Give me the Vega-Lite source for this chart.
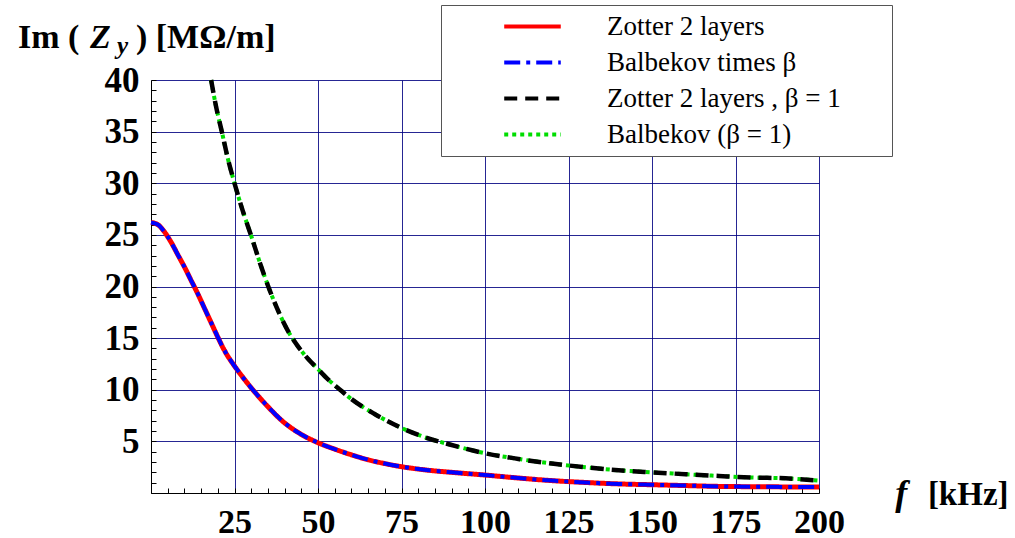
{
  "$schema": "https://vega.github.io/schema/vega-lite/v6.json",
  "width": 668,
  "height": 413,
  "autosize": {"type": "none"},
  "padding": {"left": 151, "top": 80, "right": 196, "bottom": 45},
  "background": "white",
  "config": {"view": {"stroke": null}, "font": "Liberation Serif"},
  "datasets": {
    "red": [
      {"f": 0, "v": 26.2, "s": "Zotter 2 layers"}, {"f": 2, "v": 26.0, "s": "Zotter 2 layers"}, {"f": 4, "v": 25.3, "s": "Zotter 2 layers"},
      {"f": 6, "v": 24.3, "s": "Zotter 2 layers"}, {"f": 8, "v": 23.1, "s": "Zotter 2 layers"}, {"f": 10, "v": 21.9, "s": "Zotter 2 layers"},
      {"f": 12, "v": 20.6, "s": "Zotter 2 layers"}, {"f": 14, "v": 19.3, "s": "Zotter 2 layers"}, {"f": 16, "v": 17.9, "s": "Zotter 2 layers"},
      {"f": 18, "v": 16.5, "s": "Zotter 2 layers"}, {"f": 20, "v": 15.1, "s": "Zotter 2 layers"}, {"f": 22, "v": 13.8, "s": "Zotter 2 layers"},
      {"f": 25, "v": 12.3, "s": "Zotter 2 layers"}, {"f": 28, "v": 11.0, "s": "Zotter 2 layers"}, {"f": 31, "v": 9.8, "s": "Zotter 2 layers"},
      {"f": 34.6, "v": 8.5, "s": "Zotter 2 layers"}, {"f": 39.6, "v": 6.9, "s": "Zotter 2 layers"}, {"f": 44.6, "v": 5.75, "s": "Zotter 2 layers"},
      {"f": 50, "v": 4.87, "s": "Zotter 2 layers"}, {"f": 55, "v": 4.25, "s": "Zotter 2 layers"}, {"f": 60, "v": 3.7, "s": "Zotter 2 layers"},
      {"f": 65, "v": 3.22, "s": "Zotter 2 layers"}, {"f": 70, "v": 2.85, "s": "Zotter 2 layers"}, {"f": 75, "v": 2.55, "s": "Zotter 2 layers"},
      {"f": 80, "v": 2.32, "s": "Zotter 2 layers"}, {"f": 85, "v": 2.14, "s": "Zotter 2 layers"}, {"f": 90, "v": 2.0, "s": "Zotter 2 layers"},
      {"f": 100, "v": 1.74, "s": "Zotter 2 layers"}, {"f": 110, "v": 1.45, "s": "Zotter 2 layers"}, {"f": 120, "v": 1.2, "s": "Zotter 2 layers"},
      {"f": 130, "v": 1.02, "s": "Zotter 2 layers"}, {"f": 140, "v": 0.88, "s": "Zotter 2 layers"}, {"f": 150, "v": 0.8, "s": "Zotter 2 layers"},
      {"f": 160, "v": 0.72, "s": "Zotter 2 layers"}, {"f": 170, "v": 0.64, "s": "Zotter 2 layers"}, {"f": 180, "v": 0.61, "s": "Zotter 2 layers"},
      {"f": 190, "v": 0.59, "s": "Zotter 2 layers"}, {"f": 200, "v": 0.57, "s": "Zotter 2 layers"}
    ],
    "blue": [
      {"f": 0, "v": 26.2, "s": "Balbekov times β"}, {"f": 2, "v": 26.0, "s": "Balbekov times β"}, {"f": 4, "v": 25.3, "s": "Balbekov times β"},
      {"f": 6, "v": 24.3, "s": "Balbekov times β"}, {"f": 8, "v": 23.1, "s": "Balbekov times β"}, {"f": 10, "v": 21.9, "s": "Balbekov times β"},
      {"f": 12, "v": 20.6, "s": "Balbekov times β"}, {"f": 14, "v": 19.3, "s": "Balbekov times β"}, {"f": 16, "v": 17.9, "s": "Balbekov times β"},
      {"f": 18, "v": 16.5, "s": "Balbekov times β"}, {"f": 20, "v": 15.1, "s": "Balbekov times β"}, {"f": 22, "v": 13.8, "s": "Balbekov times β"},
      {"f": 25, "v": 12.3, "s": "Balbekov times β"}, {"f": 28, "v": 11.0, "s": "Balbekov times β"}, {"f": 31, "v": 9.8, "s": "Balbekov times β"},
      {"f": 34.6, "v": 8.5, "s": "Balbekov times β"}, {"f": 39.6, "v": 6.9, "s": "Balbekov times β"}, {"f": 44.6, "v": 5.75, "s": "Balbekov times β"},
      {"f": 50, "v": 4.87, "s": "Balbekov times β"}, {"f": 55, "v": 4.25, "s": "Balbekov times β"}, {"f": 60, "v": 3.7, "s": "Balbekov times β"},
      {"f": 65, "v": 3.22, "s": "Balbekov times β"}, {"f": 70, "v": 2.85, "s": "Balbekov times β"}, {"f": 75, "v": 2.55, "s": "Balbekov times β"},
      {"f": 80, "v": 2.32, "s": "Balbekov times β"}, {"f": 85, "v": 2.14, "s": "Balbekov times β"}, {"f": 90, "v": 2.0, "s": "Balbekov times β"},
      {"f": 100, "v": 1.74, "s": "Balbekov times β"}, {"f": 110, "v": 1.45, "s": "Balbekov times β"}, {"f": 120, "v": 1.2, "s": "Balbekov times β"},
      {"f": 130, "v": 1.02, "s": "Balbekov times β"}, {"f": 140, "v": 0.88, "s": "Balbekov times β"}, {"f": 150, "v": 0.8, "s": "Balbekov times β"},
      {"f": 160, "v": 0.72, "s": "Balbekov times β"}, {"f": 170, "v": 0.64, "s": "Balbekov times β"}, {"f": 180, "v": 0.61, "s": "Balbekov times β"},
      {"f": 190, "v": 0.59, "s": "Balbekov times β"}, {"f": 200, "v": 0.57, "s": "Balbekov times β"}
    ],
    "black": [
      {"f": 18, "v": 40, "s": "Zotter 2 layers , β = 1"}, {"f": 19.5, "v": 37.4, "s": "Zotter 2 layers , β = 1"}, {"f": 21.2, "v": 35, "s": "Zotter 2 layers , β = 1"},
      {"f": 23, "v": 32.4, "s": "Zotter 2 layers , β = 1"}, {"f": 25, "v": 30, "s": "Zotter 2 layers , β = 1"}, {"f": 27.5, "v": 27.3, "s": "Zotter 2 layers , β = 1"},
      {"f": 30, "v": 24.9, "s": "Zotter 2 layers , β = 1"}, {"f": 32.5, "v": 22.4, "s": "Zotter 2 layers , β = 1"}, {"f": 35, "v": 20.1, "s": "Zotter 2 layers , β = 1"},
      {"f": 38, "v": 17.7, "s": "Zotter 2 layers , β = 1"}, {"f": 41, "v": 15.7, "s": "Zotter 2 layers , β = 1"}, {"f": 44, "v": 14.2, "s": "Zotter 2 layers , β = 1"},
      {"f": 47, "v": 13.0, "s": "Zotter 2 layers , β = 1"}, {"f": 50, "v": 12.0, "s": "Zotter 2 layers , β = 1"}, {"f": 53, "v": 11.0, "s": "Zotter 2 layers , β = 1"},
      {"f": 56.6, "v": 10, "s": "Zotter 2 layers , β = 1"}, {"f": 60, "v": 9.1, "s": "Zotter 2 layers , β = 1"}, {"f": 66.7, "v": 7.7, "s": "Zotter 2 layers , β = 1"},
      {"f": 70, "v": 7.1, "s": "Zotter 2 layers , β = 1"}, {"f": 75, "v": 6.3, "s": "Zotter 2 layers , β = 1"}, {"f": 82, "v": 5.4, "s": "Zotter 2 layers , β = 1"},
      {"f": 90, "v": 4.65, "s": "Zotter 2 layers , β = 1"}, {"f": 100, "v": 3.85, "s": "Zotter 2 layers , β = 1"}, {"f": 110, "v": 3.3, "s": "Zotter 2 layers , β = 1"},
      {"f": 120, "v": 2.85, "s": "Zotter 2 layers , β = 1"}, {"f": 130, "v": 2.5, "s": "Zotter 2 layers , β = 1"}, {"f": 140, "v": 2.2, "s": "Zotter 2 layers , β = 1"},
      {"f": 150, "v": 2.0, "s": "Zotter 2 layers , β = 1"}, {"f": 160, "v": 1.82, "s": "Zotter 2 layers , β = 1"}, {"f": 170, "v": 1.65, "s": "Zotter 2 layers , β = 1"},
      {"f": 180, "v": 1.5, "s": "Zotter 2 layers , β = 1"}, {"f": 190, "v": 1.42, "s": "Zotter 2 layers , β = 1"}, {"f": 200, "v": 1.2, "s": "Zotter 2 layers , β = 1"}
    ],
    "green": [
      {"f": 18, "v": 40, "s": "Balbekov (β = 1)"}, {"f": 19.5, "v": 37.4, "s": "Balbekov (β = 1)"}, {"f": 21.2, "v": 35, "s": "Balbekov (β = 1)"},
      {"f": 23, "v": 32.4, "s": "Balbekov (β = 1)"}, {"f": 25, "v": 30, "s": "Balbekov (β = 1)"}, {"f": 27.5, "v": 27.3, "s": "Balbekov (β = 1)"},
      {"f": 30, "v": 24.9, "s": "Balbekov (β = 1)"}, {"f": 32.5, "v": 22.4, "s": "Balbekov (β = 1)"}, {"f": 35, "v": 20.1, "s": "Balbekov (β = 1)"},
      {"f": 38, "v": 17.7, "s": "Balbekov (β = 1)"}, {"f": 41, "v": 15.7, "s": "Balbekov (β = 1)"}, {"f": 44, "v": 14.2, "s": "Balbekov (β = 1)"},
      {"f": 47, "v": 13.0, "s": "Balbekov (β = 1)"}, {"f": 50, "v": 12.0, "s": "Balbekov (β = 1)"}, {"f": 53, "v": 11.0, "s": "Balbekov (β = 1)"},
      {"f": 56.6, "v": 10, "s": "Balbekov (β = 1)"}, {"f": 60, "v": 9.1, "s": "Balbekov (β = 1)"}, {"f": 66.7, "v": 7.7, "s": "Balbekov (β = 1)"},
      {"f": 70, "v": 7.1, "s": "Balbekov (β = 1)"}, {"f": 75, "v": 6.3, "s": "Balbekov (β = 1)"}, {"f": 82, "v": 5.4, "s": "Balbekov (β = 1)"},
      {"f": 90, "v": 4.65, "s": "Balbekov (β = 1)"}, {"f": 100, "v": 3.85, "s": "Balbekov (β = 1)"}, {"f": 110, "v": 3.3, "s": "Balbekov (β = 1)"},
      {"f": 120, "v": 2.85, "s": "Balbekov (β = 1)"}, {"f": 130, "v": 2.5, "s": "Balbekov (β = 1)"}, {"f": 140, "v": 2.2, "s": "Balbekov (β = 1)"},
      {"f": 150, "v": 2.0, "s": "Balbekov (β = 1)"}, {"f": 160, "v": 1.82, "s": "Balbekov (β = 1)"}, {"f": 170, "v": 1.65, "s": "Balbekov (β = 1)"},
      {"f": 180, "v": 1.5, "s": "Balbekov (β = 1)"}, {"f": 190, "v": 1.42, "s": "Balbekov (β = 1)"}, {"f": 200, "v": 1.2, "s": "Balbekov (β = 1)"}
    ]
  },
  "layer": [
    {
      "data": {"name": "red"},
      "mark": {"type": "line", "strokeWidth": 5, "interpolate": "monotone"},
      "encoding": {
        "x": {
          "field": "f", "type": "quantitative",
          "scale": {"domain": [0, 200], "nice": false, "zero": false},
          "axis": {
            "title": null,
            "tickCount": 1000,
            "values": [0,5,10,15,20,25,30,35,40,45,50,55,60,65,70,75,80,85,90,95,100,105,110,115,120,125,130,135,140,145,150,155,160,165,170,175,180,185,190,195,200],
            "labelExpr": "datum.value % 25 === 0 && datum.value > 0 ? '' + datum.value : ''",
            "grid": true,
            "gridColor": "#000080",
            "gridWidth": 1,
            "gridOpacity": {"condition": {"test": "datum.value % 25 === 0 && datum.value > 0", "value": 0.85}, "value": 0},
            "domainColor": "black", "domainWidth": 1,
            "tickColor": "black", "tickSize": -5, "tickWidth": 1,
            "labelFont": "Liberation Serif", "labelFontSize": 34, "labelFontWeight": "bold", "labelColor": "black",
            "labelBaseline": "alphabetic", "labelPadding": 44,
            "labelOverlap": false, "labelBound": false, "labelFlush": false
          }
        },
        "y": {
          "field": "v", "type": "quantitative",
          "scale": {"domain": [0, 40], "nice": false, "zero": false},
          "axis": {
            "title": null,
            "tickCount": 1000,
            "values": [0,1,2,3,4,5,6,7,8,9,10,11,12,13,14,15,16,17,18,19,20,21,22,23,24,25,26,27,28,29,30,31,32,33,34,35,36,37,38,39,40],
            "labelExpr": "datum.value % 5 === 0 && datum.value > 0 ? '' + datum.value : ''",
            "grid": true,
            "gridColor": "#000080",
            "gridWidth": 1,
            "gridOpacity": {"condition": {"test": "datum.value % 5 === 0 && datum.value > 0", "value": 0.85}, "value": 0},
            "domainColor": "black", "domainWidth": 1,
            "tickColor": "black", "tickSize": -5, "tickWidth": 1,
            "labelFont": "Liberation Serif", "labelFontSize": 35, "labelFontWeight": "bold", "labelColor": "black",
            "labelPadding": 17,
            "labelOverlap": false, "labelBound": false, "labelFlush": false
          }
        },
        "color": {
          "field": "s", "type": "nominal",
          "scale": {"domain": ["Zotter 2 layers", "Balbekov times β", "Zotter 2 layers , β = 1", "Balbekov (β = 1)"], "range": ["#ff0000", "#0000ff", "#000000", "#00dd00"]},
          "legend": {
            "orient": "none", "legendX": 290, "legendY": -75,
            "title": " ", "titleOrient": "right", "titlePadding": 43, "titleFontSize": 27,
            "labelFont": "Liberation Serif", "labelFontSize": 27, "labelColor": "black", "labelFontWeight": "normal", "labelLimit": 400,
            "symbolType": "M-4,0H4", "symbolSize": 200, "symbolStrokeWidth": 4,
            "symbolOffset": 70, "labelOffset": 61, "rowPadding": 8, "padding": 8,
            "fillColor": "white", "strokeColor": "#555555"
          }
        },
        "strokeDash": {
          "field": "s", "type": "nominal",
          "scale": {"domain": ["Zotter 2 layers", "Balbekov times β", "Zotter 2 layers , β = 1", "Balbekov (β = 1)"], "range": [[1, 0], [16, 6, 4, 6], [13, 8], [4, 4]]}
        }
      }
    },
    {
      "data": {"name": "blue"},
      "mark": {"type": "line", "strokeWidth": 4, "interpolate": "monotone"},
      "encoding": {
        "x": {"field": "f", "type": "quantitative"},
        "y": {"field": "v", "type": "quantitative"},
        "color": {"field": "s", "type": "nominal"},
        "strokeDash": {"field": "s", "type": "nominal"}
      }
    },
    {
      "data": {"name": "green"},
      "mark": {"type": "line", "strokeWidth": 4, "interpolate": "monotone"},
      "encoding": {
        "x": {"field": "f", "type": "quantitative"},
        "y": {"field": "v", "type": "quantitative"},
        "color": {"field": "s", "type": "nominal"},
        "strokeDash": {"field": "s", "type": "nominal"}
      }
    },
    {
      "data": {"name": "black"},
      "mark": {"type": "line", "strokeWidth": 4.5, "interpolate": "monotone"},
      "encoding": {
        "x": {"field": "f", "type": "quantitative"},
        "y": {"field": "v", "type": "quantitative"},
        "color": {"field": "s", "type": "nominal"},
        "strokeDash": {"field": "s", "type": "nominal"}
      }
    },
    {
      "data": {"values": [{"t": "Im ("}]},
      "mark": {"type": "text", "font": "Liberation Serif", "fontSize": 34, "fontWeight": "bold", "align": "left", "baseline": "alphabetic", "color": "black"},
      "encoding": {"x": {"datum": -39.8, "type": "quantitative"}, "y": {"datum": 43.1, "type": "quantitative"}, "text": {"field": "t"}}
    },
    {
      "data": {"values": [{"t": "Z"}]},
      "mark": {"type": "text", "font": "Liberation Serif", "fontSize": 34, "fontWeight": "bold", "fontStyle": "italic", "align": "left", "baseline": "alphabetic", "color": "black"},
      "encoding": {"x": {"datum": -18.3, "type": "quantitative"}, "y": {"datum": 43.1, "type": "quantitative"}, "text": {"field": "t"}}
    },
    {
      "data": {"values": [{"t": "y"}]},
      "mark": {"type": "text", "font": "Liberation Serif", "fontSize": 25, "fontWeight": "bold", "fontStyle": "italic", "align": "left", "baseline": "alphabetic", "color": "black"},
      "encoding": {"x": {"datum": -10.2, "type": "quantitative"}, "y": {"datum": 42.5, "type": "quantitative"}, "text": {"field": "t"}}
    },
    {
      "data": {"values": [{"t": ") [MΩ/m]"}]},
      "mark": {"type": "text", "font": "Liberation Serif", "fontSize": 34, "fontWeight": "bold", "align": "left", "baseline": "alphabetic", "color": "black"},
      "encoding": {"x": {"datum": -4.5, "type": "quantitative"}, "y": {"datum": 43.1, "type": "quantitative"}, "text": {"field": "t"}}
    },
    {
      "data": {"values": [{"t": "f"}]},
      "mark": {"type": "text", "font": "Liberation Serif", "fontSize": 36, "fontWeight": "bold", "fontStyle": "italic", "align": "left", "baseline": "alphabetic", "color": "black"},
      "encoding": {"x": {"datum": 222.8, "type": "quantitative"}, "y": {"datum": -1.16, "type": "quantitative"}, "text": {"field": "t"}}
    },
    {
      "data": {"values": [{"t": "[kHz]"}]},
      "mark": {"type": "text", "font": "Liberation Serif", "fontSize": 33, "fontWeight": "bold", "align": "left", "baseline": "alphabetic", "color": "black"},
      "encoding": {"x": {"datum": 232.6, "type": "quantitative"}, "y": {"datum": -1.16, "type": "quantitative"}, "text": {"field": "t"}}
    }
  ]
}
